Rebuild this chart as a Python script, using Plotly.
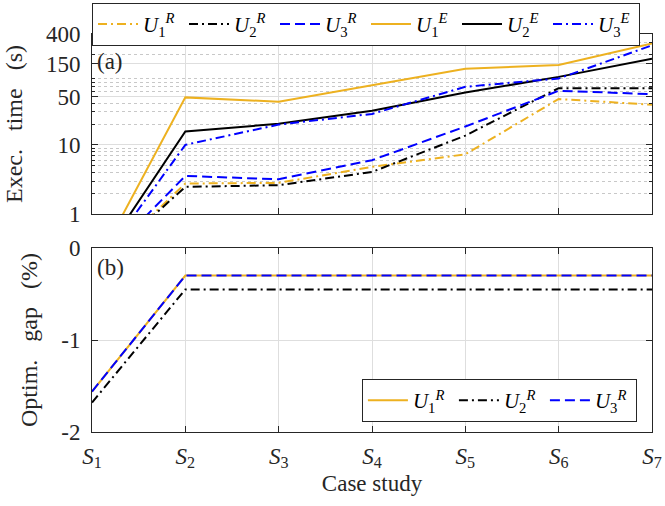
import plotly.graph_objects as go
import numpy as np

cases = ["<i>S</i><sub>1</sub>", "<i>S</i><sub>2</sub>", "<i>S</i><sub>3</sub>", "<i>S</i><sub>4</sub>",
         "<i>S</i><sub>5</sub>", "<i>S</i><sub>6</sub>", "<i>S</i><sub>7</sub>"]
x_idx = [1, 2, 3, 4, 5, 6, 7]

# Execution time (s)
time_U1R = [0.145, 2.76, 2.82, 4.8, 7.3, 46, 38]
time_U2R = [0.15, 2.47, 2.61, 4.05, 13.6, 66, 66]
time_U3R = [0.15, 3.55, 3.18, 6.0, 18.4, 60.5, 54]
time_U1E = [0.144, 48.5, 42, 72, 126, 143, 293]
time_U2E = [0.149, 15.6, 20.1, 31.2, 57, 96, 176]
time_U3E = [0.138, 10.0, 19.6, 28, 69, 91, 274]

# Optimality gap (%)
gap_U1R = [-1.56, -0.30, -0.30, -0.30, -0.30, -0.30, -0.30]
gap_U2R = [-1.68, -0.45, -0.45, -0.45, -0.45, -0.45, -0.45]
gap_U3R = [-1.56, -0.30, -0.30, -0.30, -0.30, -0.30, -0.30]

time_ticks = [1, 10, 50, 150, 400]
gap_ticks = [-2, -1, 0]
gap_ticktext = ["-2", "-1", "0"]

ORANGE = "#EDB120"
BLACK = "#000000"
BLUE = "#0000FF"
AX = "#262626"
GRID = "#dedede"
MINORGRID = "#c8c8c8"
FONT = "Liberation Serif"

DASHDOT = "9px,4px,2px,4px"
DASH = "10px,5px"

def lab(i, s):
    return f"<i>U</i><sub>{i}</sub><sup><i>{s}</i></sup>"

fig = go.Figure()

top = [
    (lab(1, "R"), time_U1R, ORANGE, DASHDOT),
    (lab(2, "R"), time_U2R, BLACK, DASHDOT),
    (lab(3, "R"), time_U3R, BLUE, DASH),
    (lab(1, "E"), time_U1E, ORANGE, "solid"),
    (lab(2, "E"), time_U2E, BLACK, "solid"),
    (lab(3, "E"), time_U3E, BLUE, DASHDOT),
]
for name, ys, col, dash in top:
    fig.add_trace(go.Scatter(x=x_idx, y=ys, mode="lines", name=name,
                             line=dict(color=col, width=2, dash=dash),
                             xaxis="x2", yaxis="y2", legend="legend"))

bottom = [
    (lab(1, "R"), gap_U1R, ORANGE, "solid"),
    (lab(2, "R"), gap_U2R, BLACK, DASHDOT),
    (lab(3, "R"), gap_U3R, BLUE, DASH),
]
for name, ys, col, dash in bottom:
    fig.add_trace(go.Scatter(x=x_idx, y=ys, mode="lines", name=name,
                             line=dict(color=col, width=2, dash=dash),
                             xaxis="x", yaxis="y", legend="legend2"))

minor_vals = [m * 10 ** k for k in range(0, 3) for m in range(2, 10) if m * 10 ** k < 400]

axis_common = dict(showline=True, linecolor=AX, linewidth=1, mirror="ticks",
                   ticks="inside", tickcolor=AX, ticklen=6, tickwidth=1,
                   tickfont=dict(family=FONT, size=23, color="#262626"),
                   showgrid=True, gridcolor=GRID, gridwidth=1, zeroline=False,
                   automargin=False)

fig.update_layout(
    width=665, height=506,
    margin=dict(l=92, r=13, t=34, b=74, autoexpand=False),
    plot_bgcolor="white", paper_bgcolor="white",
    font=dict(family=FONT, size=22, color="#262626"),
    xaxis=dict(domain=[0, 1], anchor="y", range=[1, 7], tickvals=x_idx, ticktext=cases,
               title=dict(text="Case study", font=dict(family=FONT, size=23), standoff=4),
               ticklabelstandoff=3, **axis_common),
    xaxis2=dict(domain=[0, 1], anchor="y2", range=[1, 7], tickvals=x_idx, ticktext=cases,
                showticklabels=False, matches="x", **axis_common),
    yaxis=dict(domain=[0, 0.4623], anchor="x", range=[-2, 0], tickvals=gap_ticks, ticktext=gap_ticktext,
               title=dict(text="Optim.\u00a0\u00a0 gap\u00a0\u00a0 (%)", font=dict(family=FONT, size=24), standoff=16),
               ticklabelstandoff=6, **axis_common),
    yaxis2=dict(domain=[0.5477, 1], anchor="x2", type="log", range=[0, np.log10(400)],
                tickvals=time_ticks, ticktext=[str(v) for v in time_ticks],
                title=dict(text="Exec.\u00a0\u00a0 time\u00a0\u00a0 (s)", font=dict(family=FONT, size=24), standoff=16),
                ticklabelstandoff=6,
                minor=dict(tickvals=minor_vals, ticks="inside", ticklen=3, tickcolor=AX,
                           showgrid=True, gridcolor=MINORGRID, griddash="dot", gridwidth=1),
                **axis_common),
    legend=dict(orientation="h", x=0.0, xanchor="left", y=1.078, yanchor="top",
                bgcolor="white", bordercolor=AX, borderwidth=1,
                font=dict(family=FONT, size=21, color="#000000"),
                entrywidth=36, entrywidthmode="pixels", itemwidth=40,
                tracegroupgap=0),
    legend2=dict(orientation="h", x=0.482, xanchor="left", y=0.025, yanchor="bottom",
                 bgcolor="white", bordercolor=AX, borderwidth=1,
                 font=dict(family=FONT, size=21, color="#000000"),
                 entrywidth=36, entrywidthmode="pixels", itemwidth=40),
    showlegend=True,
)

fig.add_annotation(text="(a)", xref="paper", yref="paper", x=0.005, y=(432 - 62) / 398,
                   xanchor="left", yanchor="middle", showarrow=False,
                   font=dict(family=FONT, size=23, color="#262626"))
fig.add_annotation(text="(b)", xref="paper", yref="paper", x=0.005, y=(432 - 267) / 398,
                   xanchor="left", yanchor="middle", showarrow=False,
                   font=dict(family=FONT, size=23, color="#262626"))

fig.write_html("out.html", config={"displayModeBar": False},
               post_script="document.body.style.margin='0';")
